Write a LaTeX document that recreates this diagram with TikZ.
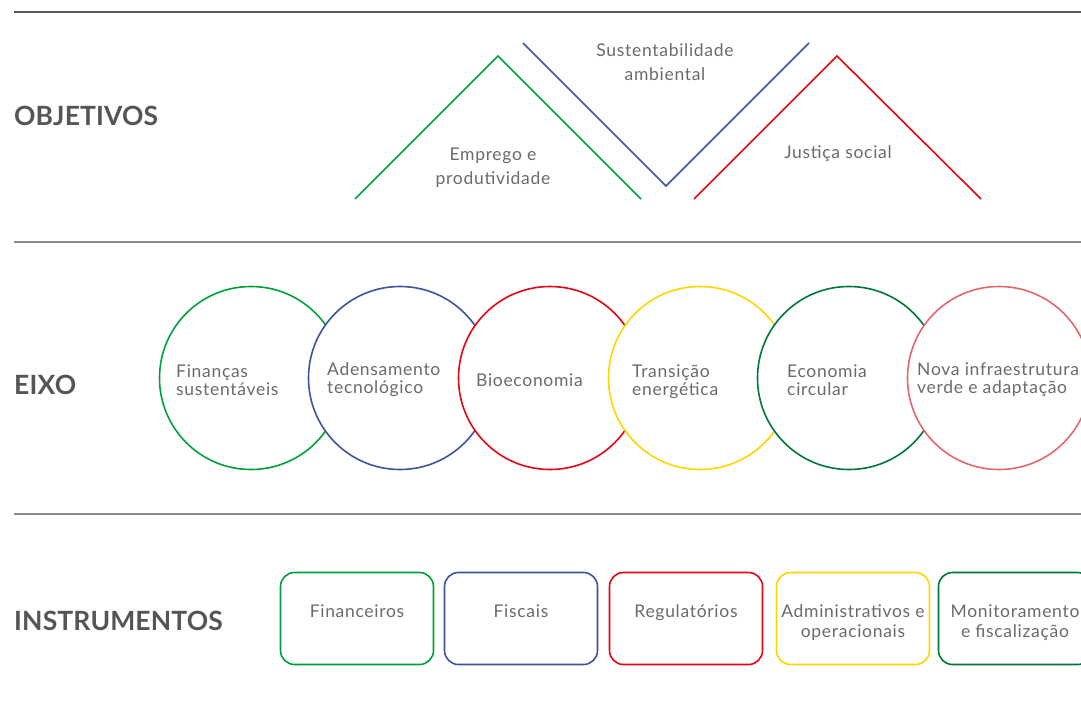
\documentclass[tikz,border=0pt]{standalone}
\usepackage{fontspec}
\setmainfont{Lato}[LetterSpace=4]
\newfontfamily\headfont{Lato}[LetterSpace=0.5]
\usetikzlibrary{calc}
\definecolor{cgreen}{HTML}{00A03C}
\definecolor{cblue}{HTML}{3F539F}
\definecolor{cred}{HTML}{E30613}
\definecolor{cyellow}{HTML}{FFD500}
\definecolor{cdgreen}{HTML}{00773A}
\definecolor{cpink}{HTML}{E2676F}
\definecolor{headgray}{HTML}{555555}
\definecolor{txtgray}{HTML}{6A6A6A}
\definecolor{rulegray}{HTML}{8A8A8A}
\definecolor{ruledark}{HTML}{5A5A5A}
\begin{document}
\begin{tikzpicture}[x=1pt,y=-1pt,
  head/.style={font=\headfont\bfseries\fontsize{26.5}{28}\selectfont, text=headgray, anchor=west, inner sep=0pt},
  body/.style={font=\fontsize{17.5}{18}\selectfont, text=txtgray, inner sep=0pt},
  objtext/.style={body, align=center, font=\fontsize{17.5}{24}\selectfont},
  ringtext/.style={body, anchor=west, align=left, font=\fontsize{17.5}{18}\selectfont},
  boxtext/.style={body, anchor=north, align=center, font=\fontsize{17.5}{19.5}\selectfont},
  ring/.style={circle, draw=#1, line width=1.6pt, fill=white, minimum size=183pt, inner sep=0pt},
  instbox/.style={rectangle, rounded corners=14pt, draw=#1, line width=1.6pt, minimum width=153pt, minimum height=92pt, inner sep=0pt},
  rule/.style={line width=1.1pt, draw=rulegray},
  objline/.style={line width=1.6pt, draw=#1, line join=miter}
]
\useasboundingbox (0,0) rectangle (1081,717);
\clip (0,0) rectangle (1081,717);

% rules
\coordinate (r1a) at (14,12);  \coordinate (r1b) at (1081,12);
\coordinate (r2a) at (14,242); \coordinate (r2b) at (1081,242);
\coordinate (r3a) at (14,514); \coordinate (r3b) at (1081,514);
\draw[rule, draw=ruledark] (r1a) -- (r1b);
\draw[rule] (r2a) -- (r2b);
\draw[rule] (r3a) -- (r3b);

% headings
\node[head] (hobj) at (14,116) {OBJETIVOS};
\node[head] (heixo) at (14,385) {EIXO};
\node[head] (hinst) at (14,621) {INSTRUMENTOS};

% objectives
\coordinate (g1) at (355,199); \coordinate (g2) at (498,56); \coordinate (g3) at (641,199);
\coordinate (b1) at (523,43);  \coordinate (b2) at (666,186); \coordinate (b3) at (809,43);
\coordinate (rr1) at (694,199); \coordinate (rr2) at (837,56); \coordinate (rr3) at (981,199);
\draw[objline=cgreen] (g1) -- (g2) -- (g3);
\draw[objline=cblue] (b1) -- (b2) -- (b3);
\draw[objline=cred] (rr1) -- (rr2) -- (rr3);
\node[objtext] (oemp) at (493,168) {Emprego e\\produtividade};
\node[objtext] (osus) at (665,62) {Sustentabilidade\\ambiental};
\node[objtext] (ojus) at (838,154) {Justiça social};

% eixo circles
\node[ring=cgreen]  (c1) at (251,378) {};
\node[ring=cblue]   (c2) at (400,378) {};
\node[ring=cred]    (c3) at (550,378) {};
\node[ring=cyellow] (c4) at (700,378) {};
\node[ring=cdgreen] (c5) at (849,378) {};
\node[ring=cpink]   (c6) at (999,378) {};
\node[ringtext] (t1) at (176,380) {Finanças\\sustentáveis};
\node[ringtext] (t2) at (327,380) {Adensamento\\tecnológico};
\node[ringtext] (t3) at (476,380) {Bioeconomia};
\node[ringtext] (t4) at (632,382) {Transição\\energética};
\node[ringtext] (t5) at (787,380) {Economia\\circular};
\node[ringtext] (t6) at (917,380) {Nova infraestrutura\\verde e adaptação};

% instruments
\node[instbox=cgreen]  (i1) at (357,618.5) {};
\node[instbox=cblue]   (i2) at (521,618.5) {};
\node[instbox=cred]    (i3) at (686,618.5) {};
\node[instbox=cyellow] (i4) at (853,618.5) {};
\node[instbox=cdgreen] (i5) at (1015,618.5) {};
\node[boxtext] (it1) at ($(i1.north)+(0,33)$) {Financeiros};
\node[boxtext] (it2) at ($(i2.north)+(0,33)$) {Fiscais};
\node[boxtext] (it3) at ($(i3.north)+(0,33)$) {Regulatórios};
\node[boxtext] (it4) at ($(i4.north)+(0,33)$) {Administrativos e\\operacionais};
\node[boxtext] (it5) at ($(i5.north)+(0,33)$) {Monitoramento\\e fiscalização};
\end{tikzpicture}
\end{document}
